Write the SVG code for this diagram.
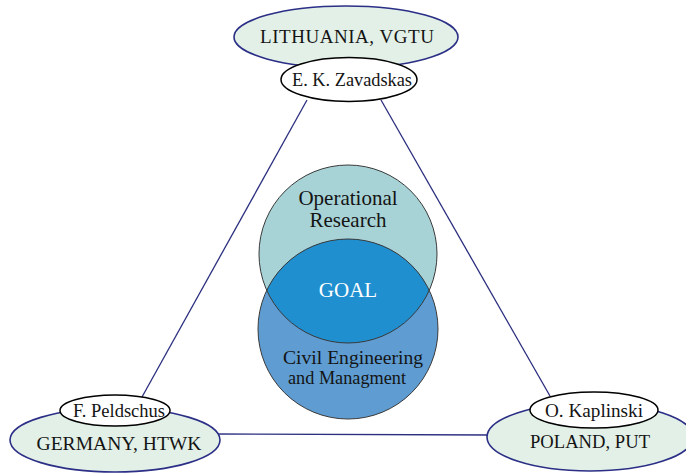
<svg xmlns="http://www.w3.org/2000/svg" width="686" height="473" viewBox="0 0 686 473">
<defs>
<style>
.country{fill:#e2f0e7;stroke:#2b2f86;stroke-width:1.6}
.person{fill:#ffffff;stroke:#000000;stroke-width:1.5}
.link{stroke:#2b2f7f;stroke-width:1.3;fill:none}
.t{font-family:"Liberation Serif","Times New Roman",serif;fill:#141414;text-anchor:middle}
.venn{stroke:#3a3a3a;stroke-width:1}
</style>
<clipPath id="upperClip"><circle cx="348" cy="254" r="89"/></clipPath>
</defs>
<rect width="686" height="473" fill="#ffffff"/>
<g id="connectors">
<line class="link" x1="307" y1="100" x2="142" y2="397"/>
<line class="link" x1="381" y1="100" x2="550" y2="396"/>
<line class="link" x1="215" y1="434" x2="492" y2="435"/>
</g>
<g id="venn">
<circle cx="348" cy="254" r="89" fill="#a7d3d7"/>
<circle cx="348" cy="329" r="90" fill="#5e9cd2"/>
<circle cx="348" cy="329" r="90" fill="#1f8fd0" clip-path="url(#upperClip)"/>
<circle class="venn" cx="348" cy="254" r="89" fill="none"/>
<circle class="venn" cx="348" cy="329" r="90" fill="none"/>
</g>
<g id="operational-research">
<text class="t" x="348" y="205" font-size="21">Operational</text>
<text class="t" x="348" y="227" font-size="21">Research</text>
</g>
<g id="goal">
<text class="t" x="348" y="297" font-size="21" style="fill:#ffffff">GOAL</text>
</g>
<g id="civil-engineering">
<text class="t" x="353" y="364" font-size="18" textLength="140" lengthAdjust="spacingAndGlyphs">Civil  Engineering</text>
<text class="t" x="347" y="384" font-size="18" textLength="118" lengthAdjust="spacingAndGlyphs">and Managment</text>
</g>
<g id="lithuania">
<ellipse class="country" cx="346" cy="37" rx="112" ry="31"/>
<text class="t" x="347" y="43" font-size="19" textLength="174" lengthAdjust="spacing">LITHUANIA, VGTU</text>
</g>
<g id="zavadskas">
<ellipse class="person" cx="349" cy="79.5" rx="68" ry="22"/>
<text class="t" x="352" y="86" font-size="18" textLength="120" lengthAdjust="spacingAndGlyphs">E. K. Zavadskas</text>
</g>
<g id="germany">
<ellipse class="country" cx="115" cy="440" rx="105" ry="32"/>
<text class="t" x="119" y="450" font-size="19" textLength="165" lengthAdjust="spacingAndGlyphs">GERMANY, HTWK</text>
</g>
<g id="peldschus">
<ellipse class="person" cx="115" cy="410.5" rx="55" ry="15.5"/>
<text class="t" x="119" y="417" font-size="18" textLength="92" lengthAdjust="spacingAndGlyphs">F. Peldschus</text>
</g>
<g id="poland">
<ellipse class="country" cx="590" cy="437" rx="103" ry="34"/>
<text class="t" x="590" y="448" font-size="19" textLength="120" lengthAdjust="spacingAndGlyphs">POLAND, PUT</text>
</g>
<g id="kaplinski">
<ellipse class="person" cx="594" cy="410" rx="64" ry="18"/>
<text class="t" x="594" y="417" font-size="18" textLength="98" lengthAdjust="spacingAndGlyphs">O. Kaplinski</text>
</g>
</svg>
